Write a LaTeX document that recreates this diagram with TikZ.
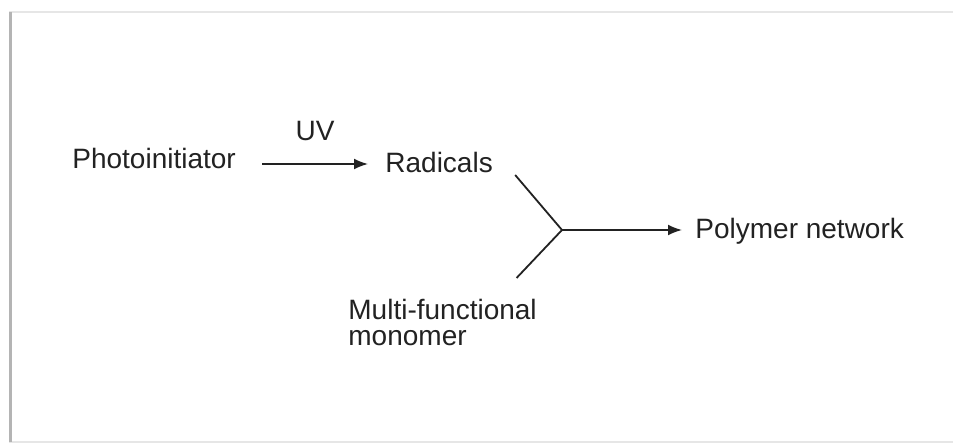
\documentclass[tikz,border=0pt]{standalone}
\usepackage{fontspec}
\setmainfont{Liberation Sans}
\usetikzlibrary{arrows.meta}
\definecolor{inkGray}{HTML}{222222}
\definecolor{edgeGray}{HTML}{B4B4B4}
\definecolor{rimGray}{HTML}{E6E6E6}

\begin{document}
\begin{tikzpicture}[
    x=0.5pt, y=-0.5pt,
    every node/.style={font=\fontsize{14}{13}\selectfont, text=inkGray, inner sep=0pt},
    lbl/.style={anchor=base west},
    arr/.style={-{Latex[length=7pt, width=5.5pt]}, inkGray, line width=0.9pt},
    bond/.style={inkGray, line width=0.9pt},
  ]
  \useasboundingbox (0,0) rectangle (953,444);

  % Frame
  \fill[white] (9,12) rectangle (953,442);
  \draw[rimGray, line width=1pt] (9,12) -- (953,12);
  \draw[rimGray, line width=1pt] (9,442) -- (953,442);
  \draw[edgeGray, line width=1.5pt] (10,12) -- (10,442);

  % Species
  \node[lbl] (photo) at (72,169) {Photoinitiator};
  \node[lbl] (radicals) at (385,172) {Radicals};
  \node[lbl] (polymer) at (695,238) {Polymer network};
  \node[anchor=north west, align=left] (monomer) at (348,299)
    {Multi-functional\\monomer};
  \coordinate (join) at (562,230);

  % Arrows
  \draw[arr] ([shift={(26,-5)}]photo.base east) -- ([shift={(-17,-8)}]radicals.base west)
    node[midway, above=11pt] (uv) {UV};
  \draw[bond] ([shift={(22,3)}]radicals.base east) -- (join);
  \draw[bond] ([shift={(74,-21)}]monomer.north) -- (join);
  \draw[arr] (join) -- ([shift={(-13,-8)}]polymer.base west);
\end{tikzpicture}
\end{document}
